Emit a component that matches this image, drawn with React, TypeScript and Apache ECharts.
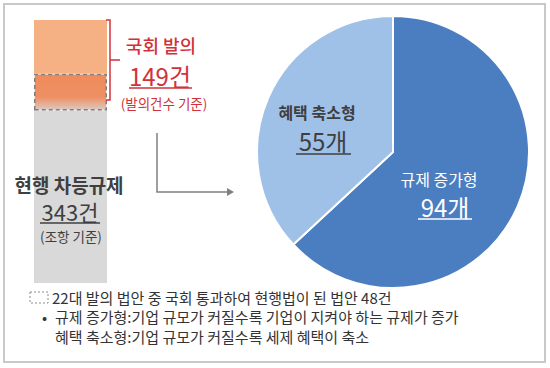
import React, { useEffect, useRef } from "react";
import * as echarts from "echarts";

// Bar: current differential regulations (343), split as drawn in the picture
const barCategories = ["현행 차등규제"];
const barGray = [225]; // remainder
const barPassed = [48]; // 22대 발의 법안 중 현행법이 된 법안
const barProposedRest = [70]; // rest of proposed part as drawn
const totalRegs = 343;
const proposedBills = 149;

// Pie
const pieNames = ["규제 증가형", "혜택 축소형"];
const pieValues = [94, 55];

const footLines = [
  "22대 발의 법안 중 국회 통과하여 현행법이 된 법안 48건",
  "규제 증가형:기업 규모가 커질수록 기업이 지켜야 하는 규제가 증가",
  "혜택 축소형:기업 규모가 커질수록 세제 혜택이 축소",
];

const FONT = '"Noto Sans CJK KR", "Noto Sans", sans-serif';
const RED = "#D1323A";
const DARK = "#3F3F3F";

export default function App() {
  const ref = useRef<HTMLDivElement>(null);
  useEffect(() => {
    if (!ref.current) return;
    const chart = echarts.init(ref.current, undefined, { renderer: "svg" });
    const t = (
      x: number,
      y: number,
      text: string,
      size: number,
      fill: string,
      weight: string | number = "normal",
      align = "center"
    ) => ({
      type: "text",
      x,
      y,
      z: 100,
      style: {
        text,
        fill,
        font: `${weight} ${size}px ${FONT}`,
        align,
        verticalAlign: "middle",
        lineHeight: size,
      },
    });
    const ln = (x1: number, y1: number, x2: number, y2: number, stroke: string, w = 1.5) => ({
      type: "line",
      z: 100,
      shape: { x1, y1, x2, y2 },
      style: { stroke, lineWidth: w },
    });
    chart.setOption({
      animation: false,
      backgroundColor: "#ffffff",
      grid: { left: 34, top: 20, width: 73, bottom: 85 },
      xAxis: { type: "category", data: barCategories, show: false },
      yAxis: { type: "value", min: 0, max: totalRegs, show: false },
      series: [
        {
          type: "bar",
          stack: "a",
          barWidth: "100%",
          data: barGray,
          itemStyle: { color: "#D9D9D9" },
          silent: true,
        },
        {
          type: "bar",
          stack: "a",
          barWidth: "100%",
          data: barPassed,
          itemStyle: {
            color: {
              type: "linear",
              x: 0,
              y: 0,
              x2: 0,
              y2: 1,
              colorStops: [
                { offset: 0, color: "#EE8B5C" },
                { offset: 0.65, color: "#EE9064" },
                { offset: 1, color: "#DCC9C2" },
              ],
            },
            borderColor: "#7F7F7F",
            borderWidth: 1.5,
            borderType: [4, 3],
          },
          silent: true,
        },
        {
          type: "bar",
          stack: "a",
          barWidth: "100%",
          data: barProposedRest,
          itemStyle: { color: "#F5B183" },
          silent: true,
        },
        {
          type: "pie",
          center: [393, 152],
          radius: 136,
          startAngle: 90,
          clockwise: true,
          label: { show: false },
          labelLine: { show: false },
          itemStyle: { borderColor: "#ffffff", borderWidth: 2 },
          data: [
            { name: pieNames[0], value: pieValues[0], itemStyle: { color: "#4A7EC0" } },
            { name: pieNames[1], value: pieValues[1], itemStyle: { color: "#9FC1E7" } },
          ],
          silent: true,
        },
      ],
      graphic: [
        // outer frame
        {
          type: "rect",
          z: 100,
          shape: { x: 4, y: 4, width: 541, height: 358 },
          style: { fill: "none", stroke: "#C9C9C9", lineWidth: 2 },
        },
        // red bracket
        {
          type: "polyline",
          z: 100,
          shape: { points: [[106, 20], [110, 20], [110, 100], [106, 100]] },
          style: { stroke: RED, lineWidth: 1.5, fill: "none" },
        },
        ln(110, 60, 120, 60, RED),
        t(161, 45, "국회 발의", 18, RED, 500),
        t(160, 75, `${proposedBills}건`, 24, RED),
        ln(129, 88, 192, 88, RED),
        t(164, 103, "(발의건수 기준)", 13.5, RED),
        // left bar labels
        t(69, 184, "현행 차등규제", 19, DARK, "bold"),
        t(70, 211, `${totalRegs}건`, 22, DARK),
        ln(40, 223, 100, 223, DARK),
        t(71, 236, "(조항 기준)", 13.5, DARK),
        // arrow
        {
          type: "polyline",
          z: 100,
          shape: { points: [[157, 133], [157, 192], [228, 192]] },
          style: { stroke: "#808080", lineWidth: 1.5, fill: "none" },
        },
        {
          type: "polygon",
          z: 100,
          shape: { points: [[227, 188], [234, 192], [227, 196]] },
          style: { fill: "#808080" },
        },
        // pie labels
        t(317, 112, pieNames[1], 16, DARK, "bold"),
        t(323, 140, `${pieValues[1]}개`, 24, DARK),
        ln(296, 154, 351, 154, DARK),
        t(439, 179, pieNames[0], 16, "#ffffff"),
        t(445, 206, `${pieValues[0]}개`, 24, "#ffffff"),
        ln(418, 219, 472, 219, "#ffffff"),
        // footnotes
        {
          type: "rect",
          z: 100,
          shape: { x: 30, y: 292, width: 18, height: 11 },
          style: { fill: "none", stroke: "#8C8C8C", lineWidth: 1, lineDash: [2, 2] },
        },
        t(52, 297, footLines[0], 15, "#333333", "normal", "left"),
        t(42, 316.5, "•", 15, "#333333", "normal", "left"),
        t(55, 316.5, footLines[1], 15, "#333333", "normal", "left"),
        t(55, 336, footLines[2], 15, "#333333", "normal", "left"),
      ],
    });
    return () => chart.dispose();
  }, []);
  return <div ref={ref} style={{ width: 550, height: 368, position: "absolute", left: 0, top: 0 }} />;
}
